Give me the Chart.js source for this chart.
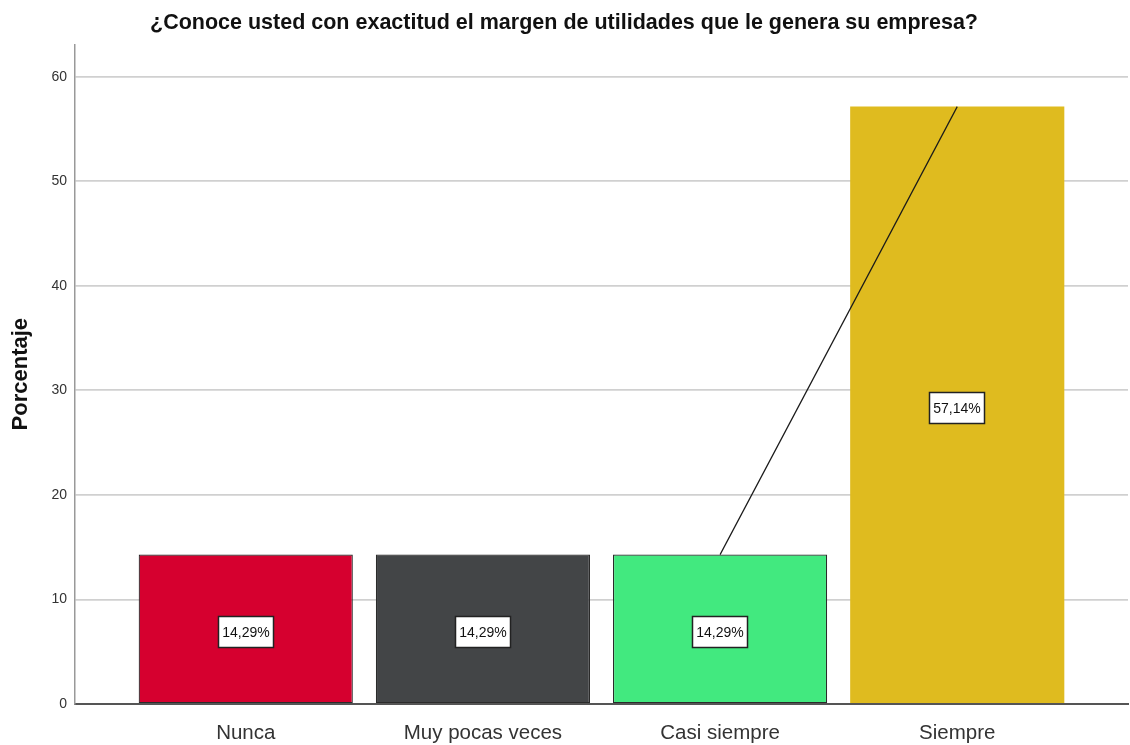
<!DOCTYPE html>
<html>
<head>
<meta charset="utf-8">
<script src="https://cdn.jsdelivr.net/npm/chart.js@4/dist/chart.umd.min.js"></script>
<style>
  html, body { margin: 0; padding: 0; background: #fff; }
  #wrap { width: 1130px; height: 745px; }
</style>
</head>
<body>
<div id="wrap"><canvas id="chart" width="1130" height="745"></canvas></div>
<script>
const categories = ['Nunca', 'Muy pocas veces', 'Casi siempre', 'Siempre'];
const percentages = [14.29, 14.29, 14.29, 57.14];
const percentLabels = ['14,29%', '14,29%', '14,29%', '57,14%'];
const trendValues = [null, null, 14.29, 57.14];
const yTicks = [0, 10, 20, 30, 40, 50, 60];

const barColors = ['#d6002f', '#434547', '#42e97f', '#dfbb1f'];
const FONT = '"Liberation Sans", Arial, sans-serif';

// white boxed labels in the middle of each bar
const boxLabels = {
    id: 'boxLabels',
    afterDatasetsDraw(chart) {
        const meta = chart.getDatasetMeta(1);
        const ctx = chart.ctx;
        ctx.save();
        ctx.font = '14px ' + FONT;
        ctx.textAlign = 'center';
        ctx.textBaseline = 'middle';
        meta.data.forEach(function (bar, i) {
            const text = percentLabels[i];
            const w = Math.round(ctx.measureText(text).width + 8);
            const h = 31;
            const cx = Math.round(bar.x);
            const cy = Math.round((bar.y + bar.base) / 2 + 3);
            ctx.fillStyle = '#fff';
            ctx.fillRect(cx - w / 2, cy - h / 2, w, h);
            ctx.strokeStyle = '#222';
            ctx.lineWidth = 1.5;
            ctx.strokeRect(cx - w / 2, cy - h / 2, w, h);
            ctx.fillStyle = '#111';
            ctx.fillText(text, cx, cy + 1);
        });
        ctx.restore();
    }
};

new Chart(document.getElementById('chart').getContext('2d'), {
    type: 'bar',
    data: {
        datasets: [{
            type: 'line',
            data: trendValues.map((v, i) => ({ x: i, y: v })).filter(p => p.y !== null),
            borderColor: '#1a1a1a',
            borderWidth: 1.2,
            pointRadius: 0,
            fill: false,
            order: 0
        }, {
            data: percentages.map((v, i) => ({ x: i, y: v })),
            backgroundColor: barColors,
            borderColor: ['#2b2b2b', '#2b2b2b', '#2b2b2b', '#dfbb1f'],
            borderWidth: [1.2, 1.2, 1.2, 0],
            borderSkipped: false,
            barPercentage: 0.903,
            categoryPercentage: 1,
            order: 1
        }]
    },
    options: {
        responsive: false,
        animation: false,
        layout: { padding: { left: 0, right: 2, top: 0, bottom: 0 } },
        plugins: {
            legend: { display: false },
            tooltip: { enabled: false },
            title: {
                display: true,
                text: '¿Conoce usted con exactitud el margen de utilidades que le genera su empresa?',
                color: '#111',
                font: { family: FONT, size: 21.5, weight: 'bold' },
                padding: { top: 10, bottom: 8.5 }
            }
        },
        scales: {
            x: {
                type: 'linear',
                offset: false,
                min: -0.72,
                max: 3.72,
                afterBuildTicks(scale) {
                    scale.ticks = categories.map((c, i) => ({ value: i }));
                },
                afterFit(scale) { scale.height = 41; },
                ticks: {
                    callback: v => categories[v],
                    color: '#333',
                    font: { family: FONT, size: 20.5 },
                    padding: 17,
                    autoSkip: false,
                    maxRotation: 0
                },
                grid: { display: false, drawTicks: false },
                border: { color: '#555', width: 2 }
            },
            y: {
                min: 0,
                max: 63.1,
                afterBuildTicks(scale) {
                    scale.ticks = yTicks.map(v => ({ value: v }));
                },
                afterFit(scale) { scale.width = 75; },
                ticks: {
                    color: '#333',
                    font: { family: FONT, size: 14 },
                    padding: 8
                },
                grid: { color: '#d0d0d0', lineWidth: 1.8, drawTicks: false },
                border: { color: '#999', width: 1.5 },
                title: {
                    display: true,
                    text: 'Porcentaje',
                    color: '#111',
                    font: { family: FONT, size: 22, weight: 'bold' },
                    padding: { top: 8, bottom: 19 }
                }
            }
        }
    },
    plugins: [boxLabels]
});
</script>
</body>
</html>
